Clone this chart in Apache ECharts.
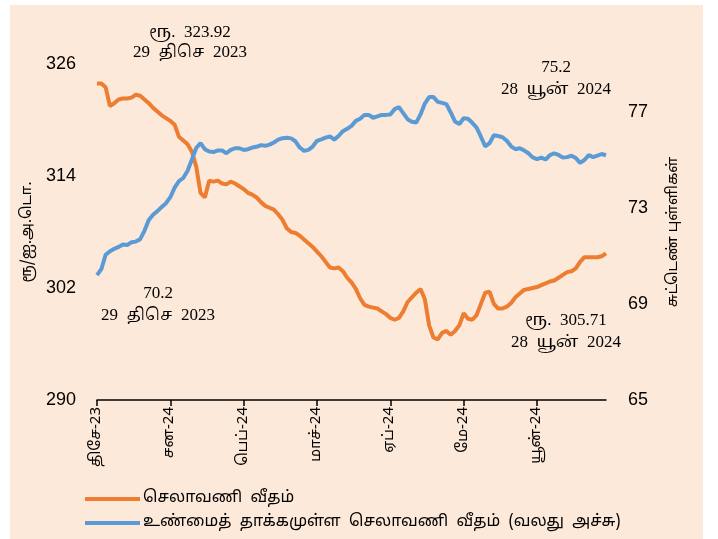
<!DOCTYPE html>
<html>
<head>
<meta charset="utf-8">
<script src="https://cdn.jsdelivr.net/npm/echarts@6/dist/echarts.min.js"></script>
<style>
html, body { margin: 0; padding: 0; background: #fff; }
#panel { position: absolute; left: 10px; top: 5px; width: 693px; height: 534px; background: #FDE9D9; }
</style>
</head>
<body>
<div id="panel"></div>
<script>
// month labels shown every 17 trading days
var tickLabels = ['திசே-23', 'சன-24', 'பெப்-24', 'மாச்-24', 'ஏப்-24', 'மே-24', 'யூன்-24'];
var tickEvery = 17;

// exchange rate, Rs per USD (left axis)
var rate = [
    323.92, 323.9, 323.5, 321.5, 321.8, 322.2, 322.3, 322.3, 322.4, 322.7,
    322.6, 322.2, 321.8, 321.3, 320.9, 320.5, 320.2, 319.9, 319.5, 318.2,
    317.8, 317.4, 316.6, 315.0, 312.2, 311.7, 313.5, 313.4, 313.5, 313.2,
    313.1, 313.4, 313.2, 312.9, 312.6, 312.2, 312.0, 311.7, 311.2, 310.8,
    310.6, 310.4, 309.9, 309.3, 308.4, 308.0, 307.9, 307.6, 307.2, 306.8,
    306.4, 305.9, 305.4, 304.8, 304.2, 304.1, 304.2, 303.8, 303.1, 302.6,
    301.9, 300.9, 300.2, 300.0, 299.9, 299.8, 299.5, 299.2, 298.8, 298.6,
    298.8, 299.5, 300.5, 301.0, 301.5, 301.9, 300.8, 298.0, 296.7, 296.5,
    297.2, 297.4, 297.0, 297.4, 298.0, 299.3, 298.7, 298.6, 299.1, 300.3,
    301.5, 301.6, 300.3, 299.8, 299.8, 300.0, 300.4, 301.0, 301.4, 301.8,
    301.9, 302.0, 302.1, 302.3, 302.5, 302.7, 302.8, 303.1, 303.4, 303.7,
    303.8, 304.1, 304.8, 305.3, 305.3, 305.3, 305.3, 305.4, 305.71
];

// real effective exchange rate index (right axis)
var reer = [
    70.2, 70.45, 71.05, 71.2, 71.3, 71.38, 71.48, 71.46, 71.57, 71.6,
    71.7, 72.05, 72.5, 72.72, 72.87, 73.04, 73.2, 73.45, 73.85, 74.12,
    74.25, 74.55, 75.02, 75.5, 75.7, 75.45, 75.35, 75.33, 75.4, 75.4,
    75.28, 75.42, 75.49, 75.49, 75.42, 75.45, 75.52, 75.55, 75.62, 75.59,
    75.64, 75.73, 75.85, 75.91, 75.93, 75.9, 75.78, 75.52, 75.38, 75.42,
    75.56, 75.8, 75.86, 75.93, 75.98, 75.85, 76.0, 76.2, 76.3, 76.42,
    76.63, 76.72, 76.88, 76.88, 76.76, 76.82, 76.88, 76.88, 76.9, 77.12,
    77.2, 76.95, 76.7, 76.59, 76.56, 76.9, 77.35, 77.62, 77.62, 77.42,
    77.38, 77.33, 76.98, 76.6, 76.5, 76.74, 76.72, 76.55, 76.35, 75.97,
    75.57, 75.7, 76.03, 76.0, 75.95, 75.8, 75.57, 75.45, 75.49, 75.4,
    75.28, 75.11, 75.04, 75.1, 75.02, 75.2, 75.28, 75.21, 75.1, 75.12,
    75.18, 75.08, 74.88, 75.0, 75.2, 75.12, 75.18, 75.25, 75.2
];

var categories = rate.map(function (v, i) { return String(i); });

var tamilSans = "'Noto Sans Tamil', 'Latha', 'Liberation Sans', sans-serif";
var tamilSerif = "'Liberation Serif', 'Noto Serif Tamil', 'Noto Sans Tamil', serif";

var chart = echarts.init(document.getElementById('panel'));

var noteStyle = function (text, lh) {
    return {
        text: text,
        font: '17px ' + tamilSerif,
        fill: '#000',
        textAlign: 'center',
        textVerticalAlign: 'top',
        lineHeight: lh
    };
};

var option = {
    animation: false,
    grid: { left: 87, top: 59, width: 509, height: 336, containLabel: false },
    legend: {
        orient: 'vertical',
        left: 70,
        top: 481,
        icon: 'rect',
        itemWidth: 55,
        itemHeight: 4,
        itemGap: 8,
        formatter: function (name) { return name.replace(/ /g, '  '); },
        textStyle: { fontSize: 16, color: '#000', fontFamily: tamilSans, padding: [0, 0, 0, -2] }
    },
    xAxis: {
        type: 'category',
        data: categories,
        boundaryGap: false,
        axisLine: { lineStyle: { color: '#000', width: 1.5 } },
        axisTick: { interval: tickEvery - 1, length: 6, lineStyle: { color: '#000', width: 1.5 } },
        axisLabel: {
            interval: tickEvery - 1,
            rotate: 90,
            margin: 7,
            fontSize: 15,
            color: '#000',
            fontFamily: tamilSans,
            formatter: function (v, i) { return tickLabels[i / tickEvery] || ''; }
        },
        splitLine: { show: false }
    },
    yAxis: [{
        type: 'value',
        min: 290,
        max: 326,
        interval: 12,
        name: 'ரூ/ஐ.அ.டொ.',
        nameLocation: 'middle',
        nameGap: 58,
        nameTextStyle: { fontSize: 15, color: '#000', fontFamily: tamilSans },
        axisLine: { show: false },
        axisTick: { show: false },
        splitLine: { show: false },
        axisLabel: { fontSize: 18, color: '#000', margin: 21, fontFamily: 'Liberation Sans' }
    }, {
        type: 'value',
        min: 65,
        max: 79,
        interval: 4,
        position: 'right',
        name: 'சுட்டெண் புள்ளிகள்',
        nameLocation: 'middle',
        nameGap: 60,
        nameRotate: 90,
        nameTextStyle: { fontSize: 15, color: '#000', fontFamily: tamilSans },
        axisLine: { show: false },
        axisTick: { show: false },
        splitLine: { show: false },
        axisLabel: { fontSize: 18, color: '#000', margin: 22, showMaxLabel: false, fontFamily: 'Liberation Sans' }
    }],
    series: [{
        name: 'செலாவணி வீதம்',
        type: 'line',
        data: rate,
        yAxisIndex: 0,
        symbol: 'none',
        color: '#ED7D31',
        lineStyle: { width: 4, color: '#ED7D31' }
    }, {
        name: 'உண்மைத் தாக்கமுள்ள செலாவணி வீதம் (வலது அச்சு)',
        type: 'line',
        data: reer,
        yAxisIndex: 1,
        symbol: 'none',
        color: '#5B9BD5',
        lineStyle: { width: 4, color: '#5B9BD5' }
    }],
    graphic: [
        { type: 'text', x: 180, y: 18, style: noteStyle('ரூ.  323.92\n29  திசெ  2023', 20) },
        { type: 'text', x: 546, y: 52, style: noteStyle('75.2\n28  யூன்  2024', 22) },
        { type: 'text', x: 148, y: 278, style: noteStyle('70.2\n29  திசெ  2023', 22) },
        { type: 'text', x: 556, y: 305, style: noteStyle('ரூ.  305.71\n28  யூன்  2024', 22) }
    ]
};

chart.setOption(option);
</script>
</body>
</html>
